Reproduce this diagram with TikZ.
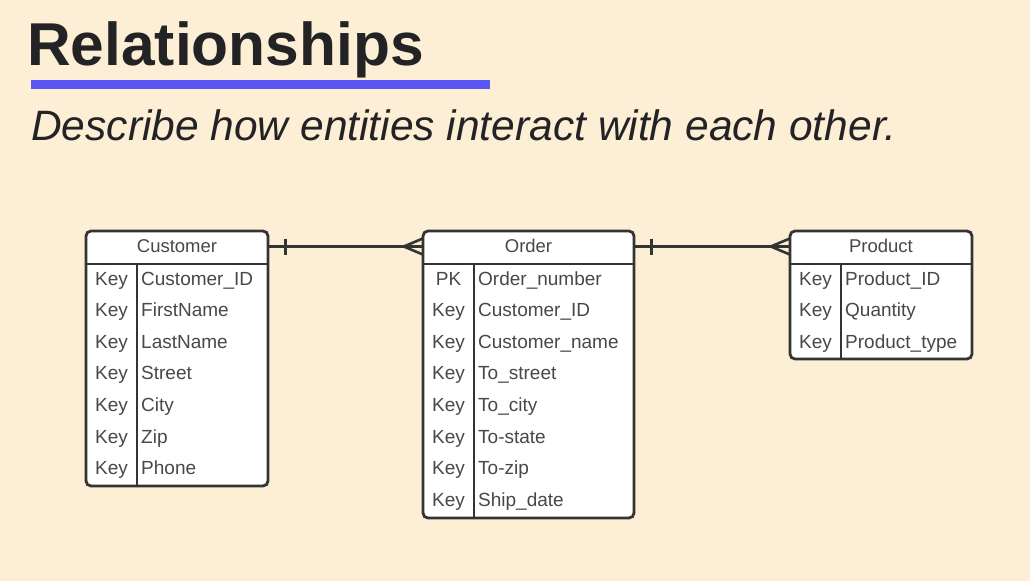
\documentclass[tikz,border=0pt]{standalone}
\usepackage{fontspec}
\setmainfont{Liberation Sans}
\usetikzlibrary{positioning,calc}

\definecolor{bgcream}{HTML}{FCEFD6}
\definecolor{inkgrey}{HTML}{343434}
\definecolor{txtgrey}{HTML}{484848}
\definecolor{titleink}{HTML}{232326}
\definecolor{accent}{HTML}{5B57F5}

\tikzset{
  tbl/.style={draw=inkgrey, line width=2.8pt, rounded corners=5pt, fill=white},
  sep/.style={draw=inkgrey, line width=2.8pt},
  hdr/.style={rectangle, minimum height=33pt, inner sep=0pt, text height=13pt, text depth=2pt,
    text=txtgrey, font=\fontsize{18.5}{20}\selectfont},
  keycell/.style={anchor=base, inner sep=0pt, text=txtgrey, font=\fontsize{19}{20}\selectfont},
  fieldcell/.style={anchor=base west, inner sep=0pt, text=txtgrey, font=\fontsize{19}{20}\selectfont},
  rel/.style={draw=inkgrey, line width=2.6pt},
}

\begin{document}
\begin{tikzpicture}[x=1pt, y=-1pt]
  \def\rowh{31.6} % distance between rows
  \fill[bgcream] (0,0) rectangle (1030,581);
  \useasboundingbox (0,0) rectangle (1030,581);

  % title
  \node[anchor=base west, inner sep=0pt, text=titleink, font=\fontsize{60.5}{60}\selectfont\bfseries]
    (title) at (27,65) {Relationships};
  \fill[accent] (31,80) rectangle (490,88.5);
  \node[anchor=base west, inner sep=0pt, text=titleink, font=\fontsize{42.5}{42}\selectfont\itshape]
    (subtitle) at (31,140) {Describe how entities interact with each other.};

  % Customer
  \draw[tbl] (86,231) rectangle (268,486);
  \draw[sep] (86,264) -- (268,264);
  \draw[sep] (137,264) -- (137,486);
  \node[hdr, minimum width=182pt] (customer) at (177,246.5) {Customer};
  \foreach \k/\f [count=\i] in {Key/Customer\_ID, Key/FirstName, Key/LastName,
      Key/Street, Key/City, Key/Zip, Key/Phone}
  {
    \node[keycell] (ck\i) at (111.5, {285+\rowh*(\i-1)}) {\k};
    \node[fieldcell] (cf\i) at (141, {285+\rowh*(\i-1)}) {\f};
  }

  % Order
  \draw[tbl] (423,231) rectangle (634,518);
  \draw[sep] (423,264) -- (634,264);
  \draw[sep] (474,264) -- (474,518);
  \node[hdr, minimum width=211pt] (order) at (528.5,246.5) {Order};
  \foreach \k/\f [count=\i] in {PK/Order\_number, Key/Customer\_ID, Key/Customer\_name,
      Key/To\_street, Key/To\_city, Key/To-state, Key/To-zip, Key/Ship\_date}
  {
    \node[keycell] (ok\i) at (448.5, {285+\rowh*(\i-1)}) {\k};
    \node[fieldcell] (of\i) at (478, {285+\rowh*(\i-1)}) {\f};
  }

  % Product
  \draw[tbl] (790,231) rectangle (972,359);
  \draw[sep] (790,264) -- (972,264);
  \draw[sep] (841,264) -- (841,359);
  \node[hdr, minimum width=182pt] (product) at (881,246.5) {Product};
  \foreach \k/\f [count=\i] in {Key/Product\_ID, Key/Quantity, Key/Product\_type}
  {
    \node[keycell] (pk\i) at (815.5, {285+\rowh*(\i-1)}) {\k};
    \node[fieldcell] (pf\i) at (845, {285+\rowh*(\i-1)}) {\f};
  }

  % relationships: one to many
  \draw[rel] (customer.east) -- (order.west);
  \draw[rel] ($(customer.east)+(17,-8)$) -- ($(customer.east)+(17,8)$);
  \draw[rel] ($(order.west)+(0,-8)$) -- ($(order.west)+(-19,0)$) -- ($(order.west)+(0,8)$);

  \draw[rel] (order.east) -- (product.west);
  \draw[rel] ($(order.east)+(17,-8)$) -- ($(order.east)+(17,8)$);
  \draw[rel] ($(product.west)+(0,-8)$) -- ($(product.west)+(-19,0)$) -- ($(product.west)+(0,8)$);
\end{tikzpicture}
\end{document}
